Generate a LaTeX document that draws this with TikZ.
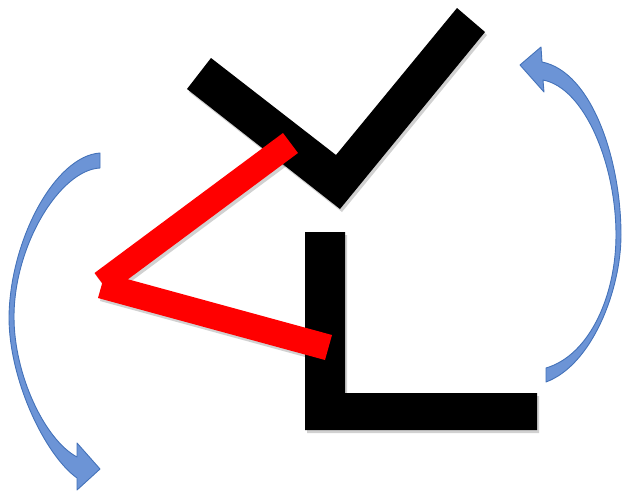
\documentclass[tikz,border=0pt]{standalone}
\begin{document}
\begin{tikzpicture}[x=1pt,y=-1pt,
  blackbar/.style={fill=black},
  redbar/.style={fill=red},
  shadowbar/.style={fill=black,opacity=0.18},
  bluearrow/.style={fill={rgb,255:red,108;green,148;blue,214},draw={rgb,255:red,68;green,114;blue,185},line width=0.9pt,line join=round}]
\useasboundingbox (0,0) rectangle (622,493);
% shadows
\begin{scope}[shift={(2,3)}]
\fill[shadowbar] (187,89) -- (211,58) -- (336,155) -- (457,8) -- (485,32) -- (340,209) -- cycle;
\fill[shadowbar] (305,232) -- (345,232) -- (345,393) -- (537,393) -- (537,430) -- (305,430) -- cycle;
\fill[shadowbar] (283,133) -- (298,153) -- (109.5,293) -- (94.5,273) -- cycle;
\fill[shadowbar] (105,273) -- (332,335) -- (325,360) -- (98,298) -- cycle;
\end{scope}
% check mark
\fill[blackbar] (187,89) -- (211,58) -- (336,155) -- (457,8) -- (485,32) -- (340,209) -- cycle;
% L shape
\fill[blackbar] (305,232) -- (345,232) -- (345,393) -- (537,393) -- (537,430) -- (305,430) -- cycle;
% red angle
\fill[redbar] (283,133) -- (298,153) -- (109.5,293) -- (94.5,273) -- cycle;
\fill[redbar] (105,273) -- (332,335) -- (325,360) -- (98,298) -- cycle;
% left curved arrow
\draw[bluearrow] (100,153) .. controls (55,156) and (10,240) .. (9,317)
  .. controls (9,380) and (45,455) .. (77,478)
  -- (77,490) -- (100,469) -- (77,443) -- (77,457)
  .. controls (45,440) and (14,375) .. (14,317)
  .. controls (14,245) and (60,170) .. (100,168) -- cycle;
% right curved arrow
\draw[bluearrow] (546,382) .. controls (592,365) and (621,290) .. (621,235)
  .. controls (621,160) and (592,72) .. (542,62)
  -- (541,47) -- (520,65) -- (544,92) -- (543,80)
  .. controls (585,88) and (616,165) .. (616,235)
  .. controls (616,295) and (590,355) .. (546,368) -- cycle;
\end{tikzpicture}
\end{document}
